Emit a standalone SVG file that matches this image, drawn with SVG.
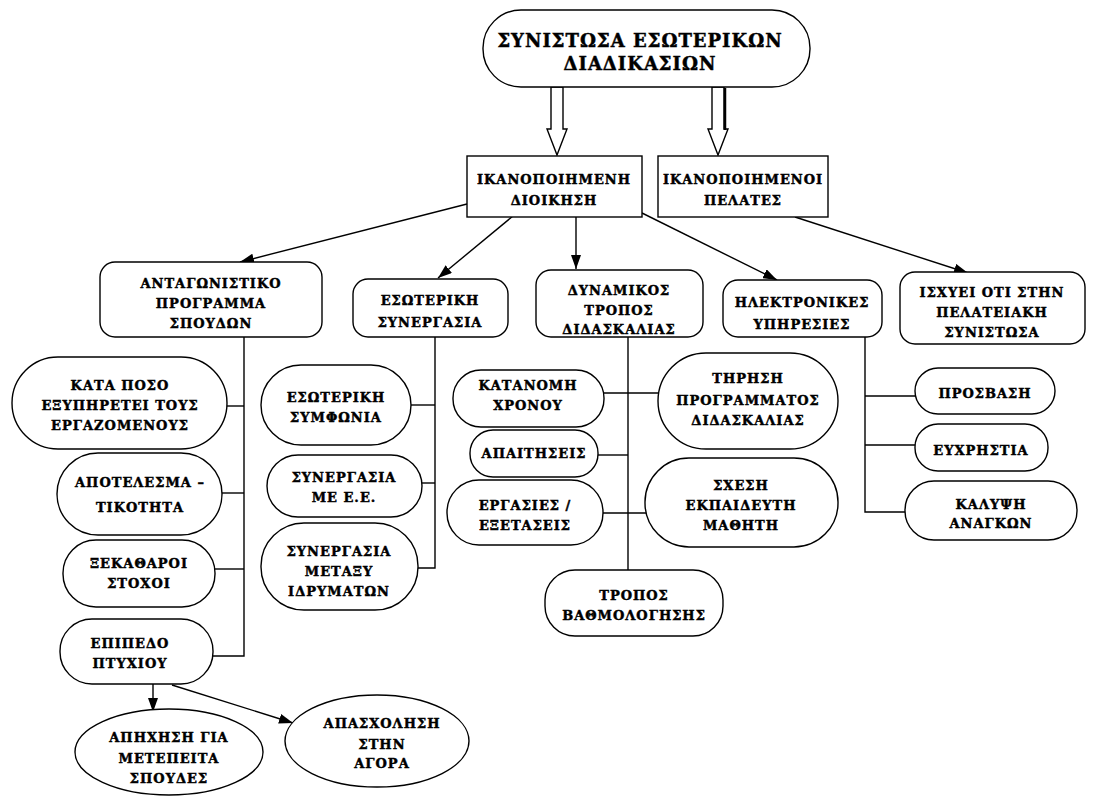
<svg xmlns="http://www.w3.org/2000/svg" width="1094" height="796" viewBox="0 0 1094 796">
<defs>
<style>
.s{fill:#fff;stroke:#000;stroke-width:1.4}
.c{fill:none;stroke:#000;stroke-width:1.4}
text{font-family:"DejaVu Serif","Liberation Serif",serif;font-weight:bold;font-size:13px;text-anchor:middle;fill:#000;stroke:#000;stroke-width:0.45;letter-spacing:1px}
.big{font-size:18px;letter-spacing:1px}
</style>
<marker id="ah" viewBox="0 0 14 10" refX="14" refY="5" markerWidth="14" markerHeight="10" markerUnits="userSpaceOnUse" orient="auto">
<path d="M0,0 L14,5 L0,10 Z" fill="#000"/>
</marker>
</defs>
<rect width="1094" height="796" fill="#fff"/>

<g id="connectors">
<polygon class="s" points="551,87 563,87 563,129 567,129 557,155 547,129 551,129"/>
<polygon class="s" points="712,87 724,87 724,129 728,129 718,155 708,129 712,129"/>
<line x1="725" y1="88" x2="725" y2="130" stroke="#000" stroke-width="2.5"/>
<line class="c" x1="467" y1="204" x2="240" y2="262" marker-end="url(#ah)"/>
<line class="c" x1="513" y1="216" x2="438" y2="278" marker-end="url(#ah)"/>
<line class="c" x1="576" y1="217" x2="576" y2="269" marker-end="url(#ah)"/>
<line class="c" x1="642" y1="213" x2="777" y2="280" marker-end="url(#ah)"/>
<line class="c" x1="795" y1="217" x2="968" y2="273" marker-end="url(#ah)"/>
<polyline class="c" points="244,337 244,656 213,656"/>
<line class="c" x1="227" y1="406" x2="244" y2="406"/>
<line class="c" x1="222" y1="493" x2="244" y2="493"/>
<line class="c" x1="215" y1="569" x2="244" y2="569"/>
<line class="c" x1="153" y1="684" x2="153" y2="712" marker-end="url(#ah)"/>
<line class="c" x1="172" y1="685" x2="293" y2="723" marker-end="url(#ah)"/>
<polyline class="c" points="435,337 435,568 418,568"/>
<line class="c" x1="411" y1="405" x2="435" y2="405"/>
<line class="c" x1="422" y1="483" x2="435" y2="483"/>
<line class="c" x1="628" y1="337" x2="628" y2="570"/>
<line class="c" x1="604" y1="393" x2="659" y2="393"/>
<line class="c" x1="598" y1="455" x2="628" y2="455"/>
<line class="c" x1="603" y1="513" x2="646" y2="513"/>
<polyline class="c" points="865,337 865,512 905,512"/>
<line class="c" x1="865" y1="396" x2="915" y2="396"/>
<line class="c" x1="865" y1="445" x2="915" y2="445"/>
</g>

<g id="root">
<rect class="s" x="483" y="10" width="327" height="77" rx="38" ry="38"/>
<text class="big" x="640" y="47">ΣΥΝΙΣΤΩΣΑ ΕΣΩΤΕΡΙΚΩΝ</text>
<text class="big" x="640" y="70">ΔΙΑΔΙΚΑΣΙΩΝ</text>
</g>
<g id="dioikisi">
<rect class="s" x="467" y="156" width="175" height="61"/>
<text x="554" y="184">ΙΚΑΝΟΠΟΙΗΜΕΝΗ</text>
<text x="554" y="205">ΔΙΟΙΚΗΣΗ</text>
</g>
<g id="pelates">
<rect class="s" x="658" y="156" width="170" height="61"/>
<text x="743" y="184">ΙΚΑΝΟΠΟΙΗΜΕΝΟΙ</text>
<text x="743" y="205">ΠΕΛΑΤΕΣ</text>
</g>
<g id="antagonistiko">
<rect class="s" x="100" y="262" width="222" height="75" rx="15"/>
<text x="211" y="288">ΑΝΤΑΓΩΝΙΣΤΙΚΟ</text>
<text x="211" y="308">ΠΡΟΓΡΑΜΜΑ</text>
<text x="211" y="328">ΣΠΟΥΔΩΝ</text>
</g>
<g id="esoteriki">
<rect class="s" x="353" y="279" width="155" height="58" rx="15"/>
<text x="430" y="305">ΕΣΩΤΕΡΙΚΗ</text>
<text x="430" y="327">ΣΥΝΕΡΓΑΣΙΑ</text>
</g>
<g id="dynamikos">
<rect class="s" x="536" y="270" width="167" height="67" rx="15"/>
<text x="619" y="295">ΔΥΝΑΜΙΚΟΣ</text>
<text x="619" y="315">ΤΡΟΠΟΣ</text>
<text x="619" y="334">ΔΙΔΑΣΚΑΛΙΑΣ</text>
</g>
<g id="ilektronikes">
<rect class="s" x="723" y="280" width="159" height="57" rx="15"/>
<text x="802" y="307">ΗΛΕΚΤΡΟΝΙΚΕΣ</text>
<text x="802" y="329">ΥΠΗΡΕΣΙΕΣ</text>
</g>
<g id="isxyei">
<rect class="s" x="900" y="272" width="185" height="72" rx="15"/>
<text x="992" y="297">ΙΣΧΥΕΙ ΟΤΙ ΣΤΗΝ</text>
<text x="992" y="317">ΠΕΛΑΤΕΙΑΚΗ</text>
<text x="992" y="337">ΣΥΝΙΣΤΩΣΑ</text>
</g>

<g id="kata-poso">
<rect class="s" x="12" y="357" width="215" height="92" rx="46"/>
<text x="120" y="390">ΚΑΤΑ ΠΟΣΟ</text>
<text x="120" y="410">ΕΞΥΠΗΡΕΤΕΙ ΤΟΥΣ</text>
<text x="120" y="430">ΕΡΓΑΖΟΜΕΝΟΥΣ</text>
</g>
<g id="apotelesmatikotita">
<rect class="s" x="57" y="453" width="165" height="82" rx="41"/>
<text x="140" y="487">ΑΠΟΤΕΛΕΣΜΑ –</text>
<text x="140" y="512">ΤΙΚΟΤΗΤΑ</text>
</g>
<g id="xekatharoi">
<rect class="s" x="63" y="540" width="152" height="67" rx="33"/>
<text x="139" y="568">ΞΕΚΑΘΑΡΟΙ</text>
<text x="139" y="588">ΣΤΟΧΟΙ</text>
</g>
<g id="epipedo">
<rect class="s" x="60" y="619" width="153" height="65" rx="32"/>
<text x="130" y="648">ΕΠΙΠΕΔΟ</text>
<text x="130" y="668">ΠΤΥΧΙΟΥ</text>
</g>
<g id="apichisi">
<ellipse class="s" cx="169" cy="752" rx="94" ry="43"/>
<text x="169" y="742">ΑΠΗΧΗΣΗ ΓΙΑ</text>
<text x="169" y="763">ΜΕΤΕΠΕΙΤΑ</text>
<text x="169" y="783">ΣΠΟΥΔΕΣ</text>
</g>
<g id="apasxolisi">
<ellipse class="s" cx="377" cy="741" rx="92" ry="46"/>
<text x="382" y="728">ΑΠΑΣΧΟΛΗΣΗ</text>
<text x="382" y="749">ΣΤΗΝ</text>
<text x="382" y="768">ΑΓΟΡΑ</text>
</g>

<g id="esoteriki-symfonia">
<rect class="s" x="261" y="365" width="150" height="80" rx="40"/>
<text x="336" y="402">ΕΣΩΤΕΡΙΚΗ</text>
<text x="336" y="422">ΣΥΜΦΩΝΙΑ</text>
</g>
<g id="synergasia-ee">
<rect class="s" x="267" y="455" width="155" height="62" rx="31"/>
<text x="344" y="482">ΣΥΝΕΡΓΑΣΙΑ</text>
<text x="344" y="502">ΜΕ Ε.Ε.</text>
</g>
<g id="synergasia-idrymaton">
<rect class="s" x="261" y="523" width="157" height="87" rx="43"/>
<text x="339" y="556">ΣΥΝΕΡΓΑΣΙΑ</text>
<text x="339" y="576">ΜΕΤΑΞΥ</text>
<text x="339" y="596">ΙΔΡΥΜΑΤΩΝ</text>
</g>

<g id="katanomi">
<rect class="s" x="453" y="370" width="151" height="57" rx="28"/>
<text x="528" y="390">ΚΑΤΑΝΟΜΗ</text>
<text x="528" y="410">ΧΡΟΝΟΥ</text>
</g>
<g id="tirisi">
<rect class="s" x="658" y="353" width="180" height="96" rx="48"/>
<text x="748" y="383">ΤΗΡΗΣΗ</text>
<text x="748" y="405">ΠΡΟΓΡΑΜΜΑΤΟΣ</text>
<text x="748" y="425">ΔΙΔΑΣΚΑΛΙΑΣ</text>
</g>
<g id="apaitiseis">
<rect class="s" x="470" y="430" width="128" height="47" rx="23"/>
<text x="534" y="458">ΑΠΑΙΤΗΣΕΙΣ</text>
</g>
<g id="ergasies">
<rect class="s" x="447" y="480" width="156" height="65" rx="32"/>
<text x="525" y="510">ΕΡΓΑΣΙΕΣ /</text>
<text x="525" y="530">ΕΞΕΤΑΣΕΙΣ</text>
</g>
<g id="sxesi">
<rect class="s" x="645" y="458" width="193" height="89" rx="44"/>
<text x="741" y="490">ΣΧΕΣΗ</text>
<text x="741" y="510">ΕΚΠΑΙΔΕΥΤΗ</text>
<text x="741" y="530">ΜΑΘΗΤΗ</text>
</g>
<g id="tropos-vathmologisis">
<rect class="s" x="545" y="570" width="178" height="66" rx="30"/>
<text x="634" y="600">ΤΡΟΠΟΣ</text>
<text x="634" y="620">ΒΑΘΜΟΛΟΓΗΣΗΣ</text>
</g>

<g id="prosvasi">
<rect class="s" x="915" y="368" width="140" height="46" rx="23"/>
<text x="985" y="398">ΠΡΟΣΒΑΣΗ</text>
</g>
<g id="efxristia">
<rect class="s" x="915" y="424" width="133" height="47" rx="23"/>
<text x="981" y="455">ΕΥΧΡΗΣΤΙΑ</text>
</g>
<g id="kalypsi">
<rect class="s" x="905" y="481" width="172" height="59" rx="29"/>
<text x="991" y="509">ΚΑΛΥΨΗ</text>
<text x="991" y="528">ΑΝΑΓΚΩΝ</text>
</g>
</svg>
